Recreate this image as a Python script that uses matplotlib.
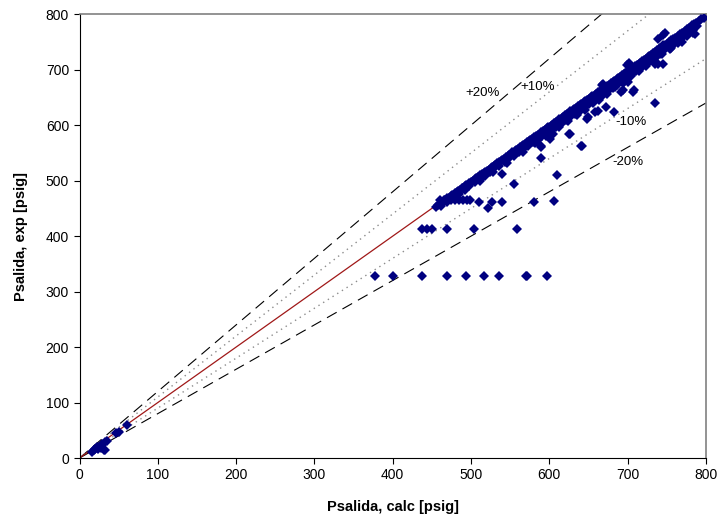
import matplotlib
matplotlib.use("Agg")
import matplotlib.pyplot as plt
import numpy as np

plt.rcParams['font.family'] = ['Liberation Sans', 'DejaVu Sans']

# main band of points, close to the 1:1 line
band_calc = [455, 458, 460, 462, 463, 465, 467, 468, 470, 472, 474, 476, 478, 480, 482, 484,
             486, 488, 490, 492, 494, 496, 498, 500, 502, 505, 507, 509, 512, 514, 516, 518,
             520, 523, 525, 527, 529, 531, 533, 536, 538, 540, 542, 545, 547, 549, 551, 553,
             556, 558, 560, 562, 565, 567, 569, 571, 574, 576, 578, 581, 583, 585, 588, 590,
             592, 595, 597, 599, 602, 604, 606, 609, 611, 613, 616, 618, 620, 623, 625, 627,
             630, 632, 634, 637, 639, 641, 644, 646, 648, 651, 653, 655, 658, 660, 662, 665,
             667, 669, 672, 674, 676, 679, 681, 683, 686, 688, 690, 693, 695, 697, 700, 702,
             705, 707, 709, 712, 714, 716, 719, 721, 723, 726, 728, 730, 733, 735, 738, 740,
             742, 745, 748, 750, 753, 756, 758, 761, 764, 767, 770, 773, 776, 779, 782, 785,
             788, 791, 794, 797]
band_exp = [453, 457, 458, 460, 462, 463, 466, 466, 468, 469, 472, 474, 475, 478, 480, 481,
            484, 486, 487, 490, 492, 493, 496, 498, 499, 503, 505, 506, 510, 512, 513, 516,
            518, 520, 523, 525, 526, 529, 531, 533, 536, 538, 539, 543, 545, 546, 549, 551,
            553, 556, 557, 560, 562, 565, 566, 569, 571, 573, 576, 578, 580, 583, 585, 588,
            589, 592, 595, 596, 599, 601, 604, 606, 608, 611, 613, 615, 618, 620, 622, 625,
            627, 629, 631, 634, 636, 638, 641, 643, 645, 648, 650, 652, 655, 657, 659, 662,
            664, 666, 669, 671, 673, 676, 678, 680, 683, 685, 687, 690, 692, 694, 697, 699,
            702, 704, 706, 709, 711, 713, 716, 718, 720, 723, 725, 727, 730, 732, 735, 737,
            739, 742, 745, 747, 750, 753, 755, 758, 761, 764, 767, 770, 773, 776, 779, 782,
            785, 788, 791, 794]

# lower edge of the band
low_calc = [462, 470, 478, 485, 492, 498, 505, 511, 518, 524, 530, 536, 543, 549, 555, 561,
            567, 573, 579, 585, 591, 597, 603, 609, 615, 621, 627, 633, 639, 645, 651, 657,
            663, 669, 675, 681, 687, 693, 699, 705, 711, 717, 723, 729, 735, 741, 747, 753,
            759, 765, 771, 777, 783, 789]
low_exp = [455, 462, 470, 476, 484, 490, 497, 503, 509, 515, 522, 527, 534, 540, 545, 551,
           557, 563, 569, 574, 580, 586, 592, 597, 603, 609, 614, 620, 626, 632, 638, 643,
           649, 655, 661, 667, 673, 679, 685, 691, 698, 704, 710, 716, 722, 728, 735, 741,
           747, 753, 759, 766, 772, 779]

# points a little further under the band
under_calc = [512, 528, 546, 566, 582, 598, 612, 624, 636, 646, 656, 664, 674, 684, 694, 704,
              714, 724, 734, 744, 754, 764, 776]
under_exp = [500, 516, 532, 552, 568, 583, 596, 608, 619, 628, 640, 646, 657, 668, 676, 688,
             697, 707, 718, 728, 738, 749, 760]

# scattered points
scat_calc = [460, 465, 470, 475, 480, 485, 490, 495, 499,
             596, 605, 601, 594, 625, 641, 648, 658, 673, 667, 692, 707, 739, 745, 699, 735,
             756, 769, 786, 782, 745, 745, 748, 739, 784, 702, 696, 700, 694, 708, 735, 669,
             683, 662, 649, 627, 642, 589, 590, 590, 610, 555, 540,
             510, 527, 540, 580, 606, 522,
             438, 444, 450, 470, 504, 559,
             378, 401, 437, 469, 493, 517, 536, 570, 572, 597,
             16, 18, 20, 22, 24, 25, 27, 28, 29, 31, 33, 33, 35, 46, 50, 61]
scat_exp = [465, 466, 465, 466, 465, 466, 465, 466, 465,
            580, 585, 576, 588, 584, 562, 612, 624, 633, 672, 660, 660, 711, 711, 708, 711,
            739, 750, 765, 780, 762, 744, 766, 755, 767, 712, 678, 678, 663, 663, 640, 675,
            623, 626, 614, 584, 563, 563, 540, 561, 511, 494, 512,
            461, 461, 461, 461, 463, 451,
            412, 412, 412, 412, 412, 412,
            328, 328, 328, 328, 328, 328, 328, 328, 328, 328,
            11, 14, 17, 19, 16, 20, 22, 18, 25, 14, 15, 29, 30, 45, 47, 59]

pct_lines = [1.2, 1.1, 0.9, 0.8]
pct_labels = ['+20%', '+10%', '-10%', '-20%']
label_pos = [(515, 658), (585, 669), (704, 606), (700, 534)]

fig = plt.figure(figsize=(7.21, 5.25), dpi=100)
ax = fig.add_axes([0.1103, 0.1276, 0.8687, 0.8452])

xx = np.array([0, 800])
ax.plot(xx, xx, color='#A01818', lw=0.9, zorder=2)
for f in pct_lines:
    if f in (1.2, 0.8):
        ax.plot(xx, f * xx, color='black', lw=0.8, ls=(0, (10, 6)), zorder=1)
    else:
        ax.plot(xx, f * xx, color='#8c8c8c', lw=1.0, ls=(0, (1, 3)), zorder=1)

for (cx, cy) in [(band_calc, band_exp), (low_calc, low_exp), (under_calc, under_exp),
                 (scat_calc, scat_exp)]:
    ax.plot(cx, cy, ls='none', marker='D', ms=5.0, color='#000080',
            markeredgewidth=0, zorder=3)

for lab, (lx, ly) in zip(pct_labels, label_pos):
    ax.text(lx, ly, lab, fontsize=9.5, ha='center', va='center')

ax.set_xlim(0, 800)
ax.set_ylim(0, 800)
ax.set_xticks(np.arange(0, 801, 100))
ax.set_yticks(np.arange(0, 801, 100))
ax.tick_params(direction='out', length=4, width=0.8, labelsize=10)
for s in ['top', 'right']:
    ax.spines[s].set_color('#808080')
    ax.spines[s].set_linewidth(1.2)
for s in ['left', 'bottom']:
    ax.spines[s].set_color('black')
    ax.spines[s].set_linewidth(0.8)

ax.set_xlabel('Psalida, calc [psig]', fontsize=10.5, fontweight='bold', labelpad=13)
ax.set_ylabel('Psalida, exp [psig]', fontsize=10.5, fontweight='bold', labelpad=13)

fig.savefig('out.png', dpi=100)
